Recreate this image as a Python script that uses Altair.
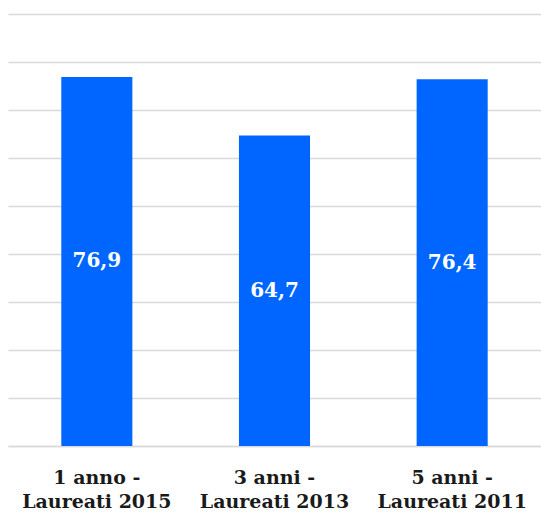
import altair as alt
import pandas as pd

categories = ["1 anno - Laureati 2015", "3 anni - Laureati 2013", "5 anni - Laureati 2011"]
values = [76.9, 64.7, 76.4]

df = pd.DataFrame({"cat": categories, "value": values})

base = alt.Chart(df).encode(
    x=alt.X("cat:N", sort=categories, title=None,
            scale=alt.Scale(paddingInner=0.6, paddingOuter=0.3),
            axis=alt.Axis(labelAngle=0, ticks=False, domainColor="#d9d9d9", domainWidth=1.5,
                          grid=False,
                          labelFont="DejaVu Serif", labelFontWeight="bold", labelFontSize=19,
                          labelColor="#1a1a1a", labelPadding=22, labelLineHeight=24,
                          labelBaseline="top",
                          labelExpr="[split(datum.label, ' - ')[0] + ' -', split(datum.label, ' - ')[1]]")),
)

bars = base.mark_bar(color="#0066FF").encode(
    y=alt.Y("value:Q", title=None,
            scale=alt.Scale(domain=[0, 90], nice=False),
            axis=alt.Axis(values=list(range(0, 100, 10)), labels=False, ticks=False, domain=False,
                          grid=True, gridColor="#d9d9d9", gridWidth=1.5)),
)

text = base.mark_text(color="white", font="DejaVu Serif", fontWeight="bold", fontSize=20,
                      baseline="middle").transform_calculate(
    mid="datum.value / 2",
    lab="replace(format(datum.value, '.1f'), '.', ',')",
).encode(
    y=alt.Y("mid:Q"),
    text="lab:N",
)

chart = (bars + text).properties(
    width=533, height=432,
    background="white",
    autosize=alt.AutoSizeParams(type="none"),
    padding={"left": 8, "top": 14, "right": 0, "bottom": 70},
).configure_view(stroke=None)

chart.save("out.html", embed_options={"renderer": "svg", "actions": False})
